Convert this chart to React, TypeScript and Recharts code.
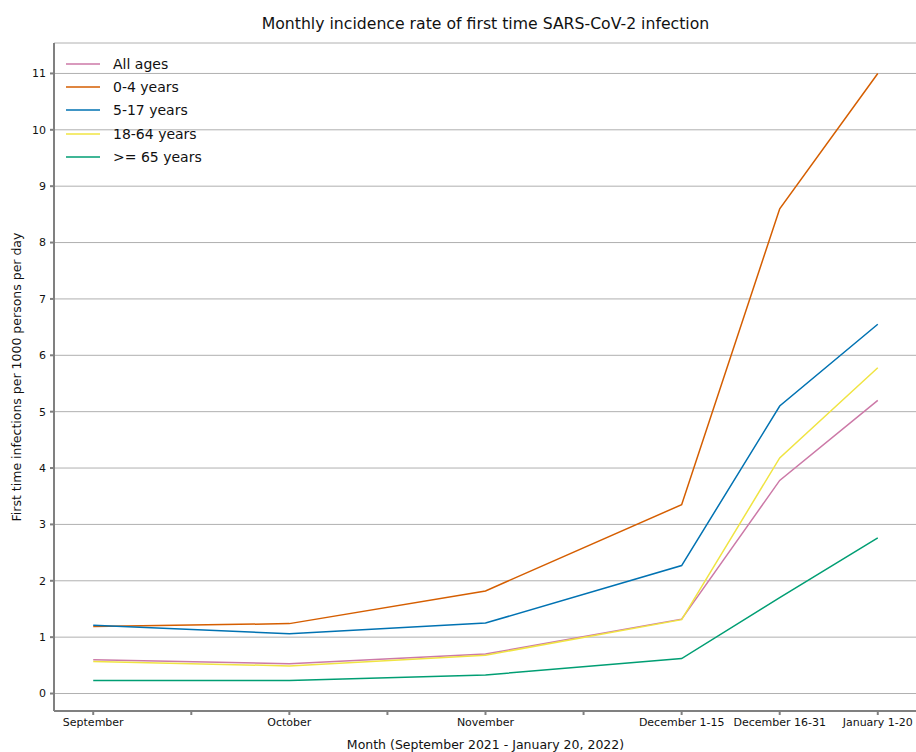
import { CartesianGrid, Line, LineChart, XAxis, YAxis } from "recharts";

// x positions in half-month units: Sep, Oct, Nov, Dec 1-15, Dec 16-31, Jan 1-20
const xPos = [0, 2, 4, 6, 7, 8];
const xLabels: Record<number, string> = {
  0: "September",
  2: "October",
  4: "November",
  6: "December 1-15",
  7: "December 16-31",
  8: "January 1-20",
};
const xTicks = [0, 1, 2, 3, 4, 5, 6, 7, 8];
const yTicks = [0, 1, 2, 3, 4, 5, 6, 7, 8, 9, 10, 11];

const allAges = [0.6, 0.53, 0.7, 1.32, 3.78, 5.2];
const age0to4 = [1.19, 1.24, 1.82, 3.35, 8.6, 11.0];
const age5to17 = [1.21, 1.06, 1.25, 2.27, 5.1, 6.55];
const age18to64 = [0.57, 0.49, 0.68, 1.31, 4.18, 5.78];
const age65plus = [0.23, 0.23, 0.33, 0.62, 1.7, 2.76];

const series = [
  { key: "all", name: "All ages", color: "#cc79a7", values: allAges },
  { key: "a04", name: "0-4 years", color: "#d55e00", values: age0to4 },
  { key: "a517", name: "5-17 years", color: "#0072b2", values: age5to17 },
  { key: "a1864", name: "18-64 years", color: "#f0e442", values: age18to64 },
  { key: "a65", name: ">= 65 years", color: "#009e73", values: age65plus },
];

const rows = xPos.map((x, i) => {
  const r: Record<string, number> = { x };
  series.forEach((s) => (r[s.key] = s.values[i]));
  return r;
});

const FONT = "DejaVu Sans";
const spine = "#808080";

function LegendBox() {
  return (
    <div
      style={{
        position: "absolute",
        top: 52,
        left: 66,
        fontFamily: FONT,
        fontSize: 14,
        color: "#111",
      }}
    >
      {series.map((s) => (
        <div key={s.key} style={{ display: "flex", alignItems: "center", height: 23.3 }}>
          <svg width={34} height={4} style={{ marginRight: 13 }}>
            <line x1={0} x2={34} y1={2} y2={2} stroke={s.color} strokeWidth={1.5} />
          </svg>
          <span>{s.name}</span>
        </div>
      ))}
    </div>
  );
}

export default function App() {
  return (
    <div style={{ position: "absolute", left: 0, top: 0, width: 916, height: 752, overflow: "hidden", background: "#fff" }}>
      <div
        style={{
          position: "absolute",
          top: 14,
          left: 54,
          width: 863,
          textAlign: "center",
          fontFamily: FONT,
          fontSize: 15.7,
          color: "#111",
        }}
      >
        Monthly incidence rate of first time SARS-CoV-2 infection
      </div>
      <LineChart
        width={920}
        height={752}
        data={rows}
        margin={{ top: 43, right: 3, left: 0, bottom: 0 }}
        style={{ fontFamily: FONT }}
      >
        <CartesianGrid horizontal vertical={false} stroke="#b0b0b0" strokeWidth={1} />
        <XAxis
          dataKey="x"
          type="number"
          domain={[-0.4, 8.4]}
          ticks={xTicks}
          interval={0}
          allowDataOverflow
          tickFormatter={(v: number) => xLabels[v] ?? ""}
          height={41}
          stroke={spine}
          strokeWidth={2}
          tickSize={4}
          tickMargin={3}
          tick={{ fill: "#111", fontSize: 11 }}
          label={{ value: "Month (September 2021 - January 20, 2022)", position: "insideBottom", offset: 3, fill: "#111", fontSize: 12.5 }}
        />
        <XAxis xAxisId="top" orientation="top" type="number" domain={[-0.4, 8.4]} tick={false} height={0} stroke={spine} strokeWidth={2} />
        <YAxis
          type="number"
          domain={[-0.31, 11.54]}
          ticks={yTicks}
          interval={0}
          allowDataOverflow
          width={54}
          stroke={spine}
          strokeWidth={2}
          tickSize={4}
          tickMargin={4}
          tick={{ fill: "#111", fontSize: 11 }}
          label={{
            value: "First time infections per 1000 persons per day",
            angle: -90,
            position: "insideLeft",
            offset: 17,
            style: { textAnchor: "middle" },
            fill: "#111",
            fontSize: 12.5,
          }}
        />
        {series.map((s) => (
          <Line
            key={s.key}
            dataKey={s.key}
            name={s.name}
            type="linear"
            stroke={s.color}
            strokeWidth={1.5}
            dot={false}
            activeDot={false}
            isAnimationActive={false}
          />
        ))}
      </LineChart>
      <LegendBox />
    </div>
  );
}
